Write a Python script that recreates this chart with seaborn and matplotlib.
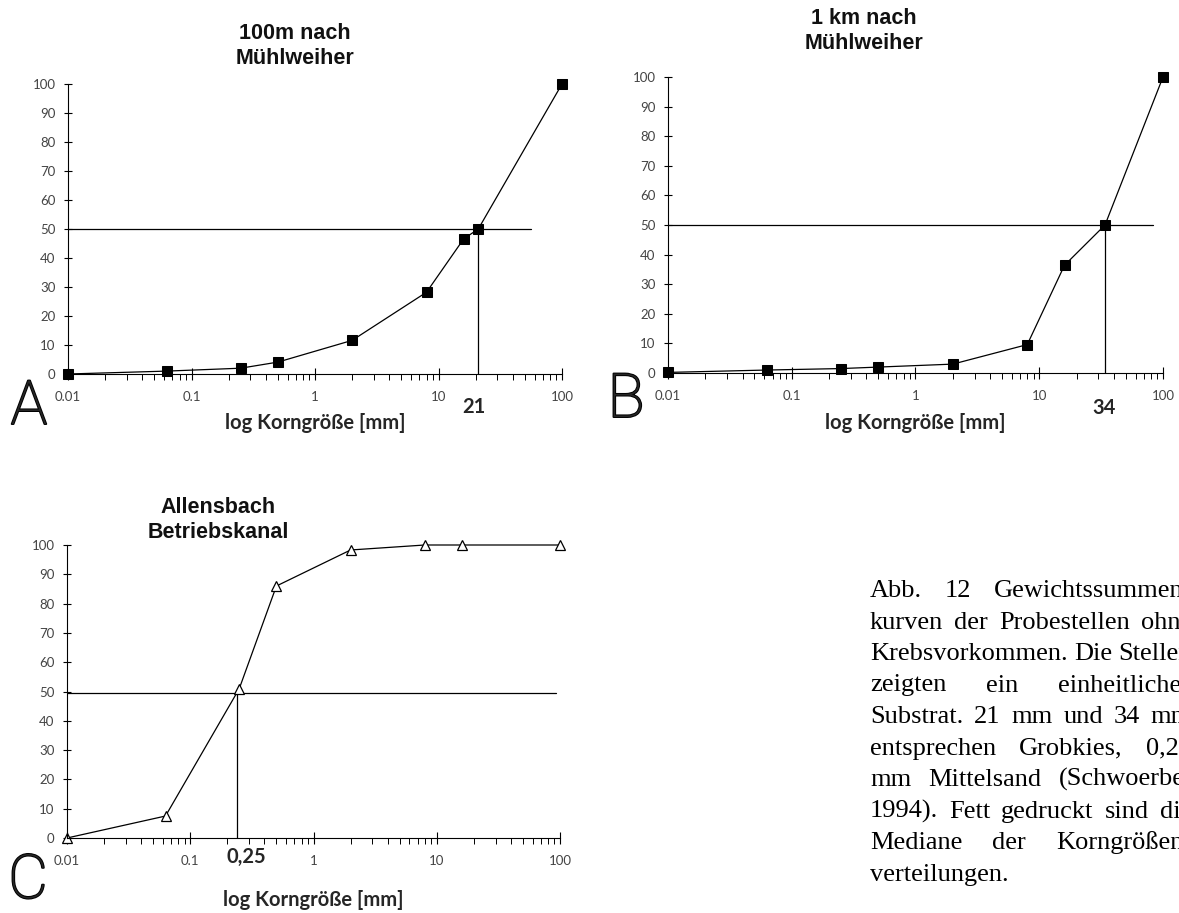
import numpy as np
import pandas as pd
import matplotlib
matplotlib.use("Agg")
import matplotlib.pyplot as plt
import matplotlib.patheffects as pe
import seaborn as sns
from matplotlib.ticker import LogLocator, NullFormatter, FixedLocator

# ---------------- data ----------------
sizes_A = [0.01, 0.063, 0.25, 0.5, 2, 8, 16, 21, 100]
cum_A = [0, 1.0, 2.0, 4.1, 11.6, 28.2, 46.6, 50, 100]

sizes_B = [0.01, 0.063, 0.25, 0.5, 2, 8, 16, 34, 100]
cum_B = [0.2, 1.0, 1.5, 2.0, 3.0, 9.6, 36.4, 50, 100]

sizes_C = [0.01, 0.063, 0.25, 0.5, 2, 8, 16, 100]
cum_C = [0, 7.5, 51, 86, 98.3, 100, 100, 100]

panel_titles = ["100m nach\nMühlweiher", "1 km nach\nMühlweiher", "Allensbach\nBetriebskanal"]
panel_letters = ["A", "B", "C"]
median_values = [21, 34, 0.24]
median_labels = ["21", "34", "0,25"]
median_levels = [50, 50, 49.5]
hline_ends = [56, 83, 93]
x_tick_values = [0.01, 0.1, 1, 10, 100]
x_tick_labels = ["0.01", "0.1", "1", "10", "100"]
y_tick_values = list(range(0, 101, 10))
x_label = "log Korngröße [mm]"

caption_lines = [
    "Abb. 12 Gewichtssummen-",
    "kurven der Probestellen ohne",
    "Krebsvorkommen. Die Stellen",
    "zeigten ein einheitliches",
    "Substrat. 21 mm und 34 mm",
    "entsprechen Grobkies, 0,25",
    "mm Mittelsand (Schwoerbel",
    "1994). Fett gedruckt sind die",
    "Mediane der Korngrößen-",
    "verteilungen.",
]

# ---------------- style ----------------
sns.set_theme(style="white")
plt.rcParams["font.family"] = ["Lato", "DejaVu Sans"]
plt.rcParams["axes.linewidth"] = 0.8

W, H = 1179, 913
fig = plt.figure(figsize=(W / 100, H / 100), dpi=100)
fig.patch.set_facecolor("white")


def rect(l, r, t, b):
    return [l / W, 1 - b / H, (r - l) / W, (b - t) / H]


def fx(x):
    return x / W


def fy(y):
    return 1 - y / H


# panel geometry (pixels): left, right, top, bottom
geoms = [(68, 562, 84, 374), (668, 1163, 77, 373), (67, 560, 545, 838)]
title_pos = [(295, 46), (864, 31), (218, 520)]
median_lab_pos = [(474, 407), (1104, 408), (246, 857)]
xlabel_pos = [(315, 423), (915, 423), (313, 900)]
letter_pos = [(29, 407), (626, 400), (28, 881)]

series = [
    (sizes_A, cum_A, "s"),
    (sizes_B, cum_B, "s"),
    (sizes_C, cum_C, "^"),
]

for i, (g, (xs, ys, mk)) in enumerate(zip(geoms, series)):
    ax = fig.add_axes(rect(*g))
    ax.set_facecolor("white")
    df = pd.DataFrame({"size": xs, "cum": ys})
    if mk == "s":
        sns.lineplot(data=df, x="size", y="cum", ax=ax, color="black", lw=0.9,
                     marker="s", markersize=6.5, markerfacecolor="black",
                     markeredgecolor="black", clip_on=False, sort=False)
    else:
        sns.lineplot(data=df, x="size", y="cum", ax=ax, color="black", lw=0.9,
                     marker="^", markersize=7, markerfacecolor="white",
                     markeredgecolor="black", markeredgewidth=0.9,
                     clip_on=False, sort=False)
    # median reference lines
    ax.plot([x_tick_values[0], hline_ends[i]], [median_levels[i]] * 2,
            color="black", lw=0.9, zorder=1)
    ax.plot([median_values[i]] * 2, [0, median_levels[i]], color="black",
            lw=0.9, zorder=1)

    ax.set_xscale("log")
    ax.set_xlim(0.01, 100)
    ax.set_ylim(0, 100)
    ax.xaxis.set_major_locator(FixedLocator(x_tick_values))
    ax.set_xticks(x_tick_values)
    ax.set_xticklabels(x_tick_labels)
    ax.xaxis.set_minor_locator(LogLocator(base=10, subs=np.arange(2, 10)))
    ax.xaxis.set_minor_formatter(NullFormatter())
    ax.set_yticks(y_tick_values)
    ax.set_yticklabels([str(v) for v in y_tick_values])
    ax.tick_params(axis="x", which="major", direction="inout", length=8,
                   width=0.8, color="black", labelsize=9.5, labelcolor="#444444", pad=8,
                   bottom=True)
    ax.tick_params(axis="x", which="minor", direction="out", length=4,
                   width=0.7, color="black", bottom=True)
    ax.tick_params(axis="y", which="major", direction="inout", length=6,
                   width=0.8, color="black", labelsize=9.5, labelcolor="#444444", pad=6,
                   left=True)
    for s in ["top", "right"]:
        ax.spines[s].set_visible(False)
    for s in ["left", "bottom"]:
        ax.spines[s].set_color("black")
        ax.spines[s].set_linewidth(0.8)
    ax.set_xlabel("")
    ax.set_ylabel("")
    ax.grid(False)

    tx, ty = title_pos[i]
    fig.text(fx(tx), fy(ty), panel_titles[i], ha="center", va="center",
             fontsize=15.5, fontweight="bold", family=["Liberation Sans", "DejaVu Sans"],
             linespacing=1.3, color="#111111")
    xx, xy = xlabel_pos[i]
    fig.text(fx(xx), fy(xy), x_label, ha="center", va="center",
             fontsize=14.5, fontweight="bold")
    mx, my = median_lab_pos[i]
    fig.text(fx(mx), fy(my), median_labels[i], ha="center", va="center",
             fontsize=14.5, fontweight="bold")
    lx, ly = letter_pos[i]
    fig.text(fx(lx), fy(ly), panel_letters[i], ha="center", va="center",
             fontsize=44, fontweight="light", family=["Roboto", "DejaVu Sans"],
             path_effects=[pe.withStroke(linewidth=1.4, foreground="black")])

# ---------------- caption (justified) ----------------
cap_left, cap_right = 870, 1192
base0, lh = 597, 31.5
cap_fs = 19
fig.canvas.draw()
rend = fig.canvas.get_renderer()
space_px = 0.25 * cap_fs * 100 / 72
for i, line in enumerate(caption_lines):
    words = line.split()
    texts = [fig.text(0, fy(base0 + i * lh), w, fontsize=cap_fs, va="baseline",
                      ha="left", family=["Liberation Serif", "DejaVu Serif"], color="black")
             for w in words]
    widths = [t.get_window_extent(rend).width for t in texts]
    if i < len(caption_lines) - 1 and len(words) > 1:
        gap = (cap_right - cap_left - sum(widths)) / (len(words) - 1)
    else:
        gap = space_px
    x = cap_left
    for t, w in zip(texts, widths):
        t.set_x(fx(x))
        x += w + gap

fig.savefig("out.png", dpi=100, facecolor="white")
